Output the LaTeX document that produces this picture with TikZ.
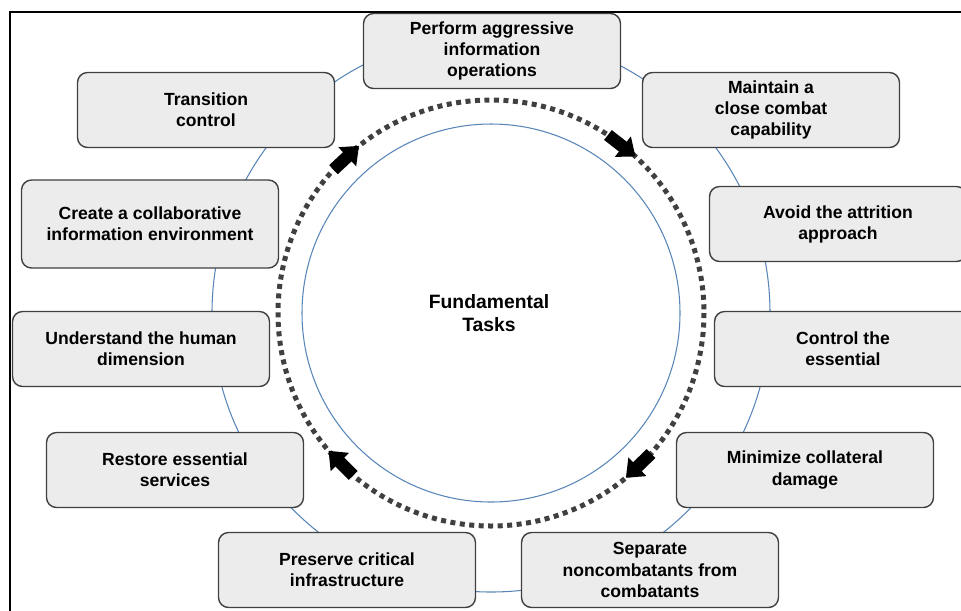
\documentclass[tikz,border=0pt]{standalone}
\usepackage{fontspec}
\setmainfont{Liberation Sans}
\usetikzlibrary{arrows.meta,calc}
\definecolor{boxgray}{RGB}{236,236,236}
\definecolor{ringblue}{RGB}{88,134,184}
\definecolor{dotgray}{RGB}{64,64,64}
\tikzset{
  taskbox/.style={draw=black!75, line width=0.8pt, fill=boxgray, rounded corners=0.2cm,
    minimum width=5.14cm, minimum height=1.5cm, align=center,
    font=\bfseries\fontsize{10}{12}\selectfont},
  flowarrow/.style={line width=0.25cm, black, -{Triangle[length=0.32cm,width=0.5cm]}}
}
\begin{document}
\begin{tikzpicture}[x=0.02cm,y=-0.02cm]
        \clip (0,0) rectangle (961,610);
        \fill[white] (0,0) rectangle (961,610);
        \draw[line width=1.4pt] (10,12) rectangle (990,640);
        \coordinate (hub) at (491,313);
        \draw[ringblue,line width=0.6pt] (hub) circle (279);
        % tasks round the ring
        \node[taskbox] (perform) at (492,51) {Perform aggressive\\information\\operations};
        \node[taskbox] (maintain) at (771,110) {Maintain a\\close combat\\capability};
        \node[taskbox] (avoid) at (838,224) {Avoid the attrition\\approach};
        \node[taskbox] (control) at (843,349) {Control the\\essential};
        \node[taskbox] (minimize) at (805,470) {Minimize collateral\\damage};
        \node[taskbox] (separate) at (650,570) {Separate\\noncombatants from\\combatants};
        \node[taskbox] (preserve) at (347,570) {Preserve critical\\infrastructure};
        \node[taskbox] (restore) at (175,470) {Restore essential\\services};
        \node[taskbox] (understand) at (141,349) {Understand the human\\dimension};
        \node[taskbox,minimum height=1.76cm] (create) at (150,224) {Create a collaborative\\information environment};
        \node[taskbox] (transition) at (206,110) {Transition\\control};
        % inner rings
        \draw[ringblue,line width=0.6pt] (hub) circle (189);
        \draw[dotgray,line width=0.1cm,dash pattern=on 0.1cm off 0.09cm] (hub) circle (213);
        \foreach \a [count=\i] in {-133,-52,46,135}{
          \coordinate (tail\i) at ($(hub)+(\a-4.7:213)$);
          \coordinate (tip\i) at ($(hub)+(\a+4.7:213)$);
          \draw[flowarrow] (tail\i) -- (tip\i);
        }
        \node[align=center,font=\bfseries\fontsize{11}{13.2}\selectfont] (core) at (489,313) {Fundamental\\Tasks};
\end{tikzpicture}
\end{document}
